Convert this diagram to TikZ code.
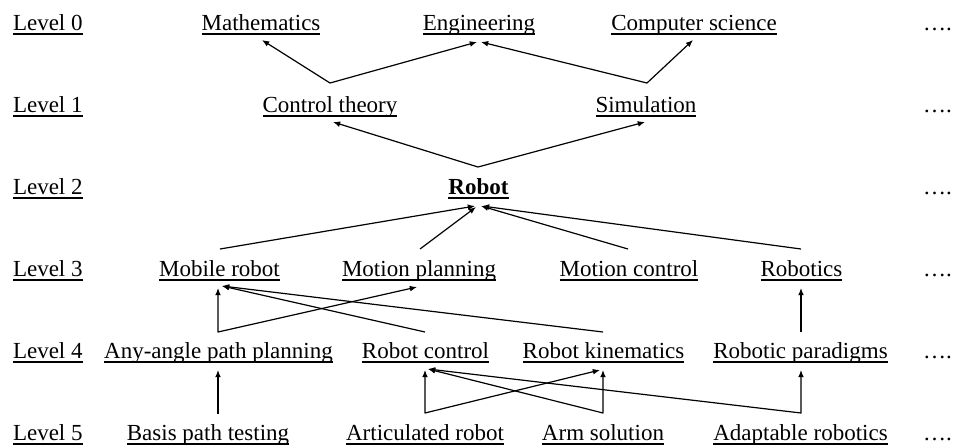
\documentclass[tikz,border=0pt]{standalone}
\usepackage{fontspec}
\setmainfont{Liberation Serif}
\usetikzlibrary{arrows.meta}
\begin{document}
\begin{tikzpicture}[x=0.5pt,y=-0.5pt,
  lbl/.style={inner sep=0pt, outer sep=0pt, font=\fontsize{11.5pt}{13pt}\selectfont, anchor=base},
  lvl/.style={lbl, anchor=base west},
  dots/.style={lbl, anchor=base west},
  uline/.style={line width=0.6pt},
  conn/.style={line width=0.6pt, line join=round, -{Latex[length=3.6pt,width=2.9pt]}},
  vee/.style={line width=0.6pt, line join=round, {Latex[length=3.6pt,width=2.9pt]}-{Latex[length=3.6pt,width=2.9pt]}}]
\useasboundingbox (0,0) rectangle (955,447);

% level labels
\node[lvl] (L0) at (13,30) {Level 0};
\node[lvl] (L1) at (13,112) {Level 1};
\node[lvl] (L2) at (13,194) {Level 2};
\node[lvl] (L3) at (13,276) {Level 3};
\node[lvl] (L4) at (13,358) {Level 4};
\node[lvl] (L5) at (13,440) {Level 5};

% dots
\node[dots] (d0) at (923,30) {….};
\node[dots] (d1) at (923,112) {….};
\node[dots] (d2) at (923,194) {….};
\node[dots] (d3) at (923,276) {….};
\node[dots] (d4) at (923,358) {….};
\node[dots] (d5) at (923,440) {….};

% level 0
\node[lbl] (math) at (261,30) {Mathematics\ };
\node[lbl] (eng) at (479,30) {Engineering};
\node[lbl] (cs) at (694,30) {Computer science};
% level 1
\node[lbl] (ct) at (330,112) {Control theory\ };
\node[lbl] (sim) at (646,112) {Simulation};
% level 2
\node[lbl] (robot) at (478.5,194) {\bfseries Robot\ };
% level 3
\node[lbl] (mr) at (219.5,276) {Mobile robot\ };
\node[lbl] (mp) at (419,276) {Motion planning\ };
\node[lbl] (mc) at (629,276) {Motion control\ };
\node[lbl] (rb) at (801.5,276) {Robotics\ };
% level 4
\node[lbl] (aa) at (218.5,358) {Any-angle path planning};
\node[lbl] (rc) at (425.5,358) {Robot control};
\node[lbl] (rk) at (603.5,358) {Robot kinematics};
\node[lbl] (rp) at (800.5,358) {Robotic paradigms};
% level 5
\node[lbl] (bp) at (208,440) {Basis path testing};
\node[lbl] (ar) at (425,440) {Articulated robot};
\node[lbl] (as) at (603,440) {Arm solution};
\node[lbl] (ad) at (800.5,440) {Adaptable robotics};

% underlines
\foreach \n in {L0,L1,L2,L3,L4,L5,math,eng,cs,ct,sim,robot,mr,mp,mc,rb,aa,rc,rk,rp,bp,ar,as,ad}
  \draw[uline] ([yshift=-2pt]\n.base west) -- ([yshift=-2pt]\n.base east);

% connector points
\coordinate (math-i) at (262,40);
\coordinate (eng-i1) at (477,42);
\coordinate (eng-i2) at (481,42);
\coordinate (cs-i) at (693,40);
\coordinate (ct-o) at (330,83);
\coordinate (sim-o) at (647,83);
\coordinate (ct-i) at (333,122);
\coordinate (sim-i) at (645,122);
\coordinate (robot-o) at (478,167);
\coordinate (robot-i1) at (475,206);
\coordinate (robot-i2) at (476,207);
\coordinate (robot-i3) at (481,206);
\coordinate (robot-i4) at (482,206);
\coordinate (mr-o) at (220,249);
\coordinate (mp-o) at (420,249);
\coordinate (mc-o) at (628,249);
\coordinate (rb-o) at (801,249);
\coordinate (mr-i1) at (218,288);
\coordinate (mr-i2) at (222,286);
\coordinate (mp-i) at (417,287);
\coordinate (rb-i) at (801,288);
\coordinate (aa-o) at (218,332);
\coordinate (rc-o) at (425,332);
\coordinate (rk-o) at (603,332);
\coordinate (rp-o) at (801,332);
\coordinate (aa-i) at (218,370);
\coordinate (rc-i1) at (425,370);
\coordinate (rc-i2) at (428,369);
\coordinate (rk-i1) at (600,370);
\coordinate (rk-i2) at (603,370);
\coordinate (rp-i) at (801,370);
\coordinate (bp-o) at (218,414);
\coordinate (ar-o) at (425,413);
\coordinate (as-o) at (603,413);
\coordinate (ad-o) at (801,413);

% level 1 -> 0
\draw[vee] (math-i) -- (ct-o) -- (eng-i1);
\draw[vee] (eng-i2) -- (sim-o) -- (cs-i);
% level 2 -> 1
\draw[vee] (ct-i) -- (robot-o) -- (sim-i);
% level 3 -> 2
\draw[conn] (mr-o) -- (robot-i1);
\draw[conn] (mp-o) -- (robot-i2);
\draw[conn] (mc-o) -- (robot-i3);
\draw[conn] (rb-o) -- (robot-i4);
% level 4 -> 3
\draw[vee] (mr-i1) -- (aa-o) -- (mp-i);
\draw[conn] (rc-o) -- (mr-i2);
\draw[conn] (rk-o) -- (mr-i2);
\draw[conn] (rp-o) -- (rb-i);
% level 5 -> 4
\draw[conn] (bp-o) -- (aa-i);
\draw[vee] (rc-i1) -- (ar-o) -- (rk-i1);
\draw[vee] (rk-i2) -- (as-o) -- (rc-i2);
\draw[vee] (rp-i) -- (ad-o) -- (rc-i2);
\end{tikzpicture}
\end{document}
